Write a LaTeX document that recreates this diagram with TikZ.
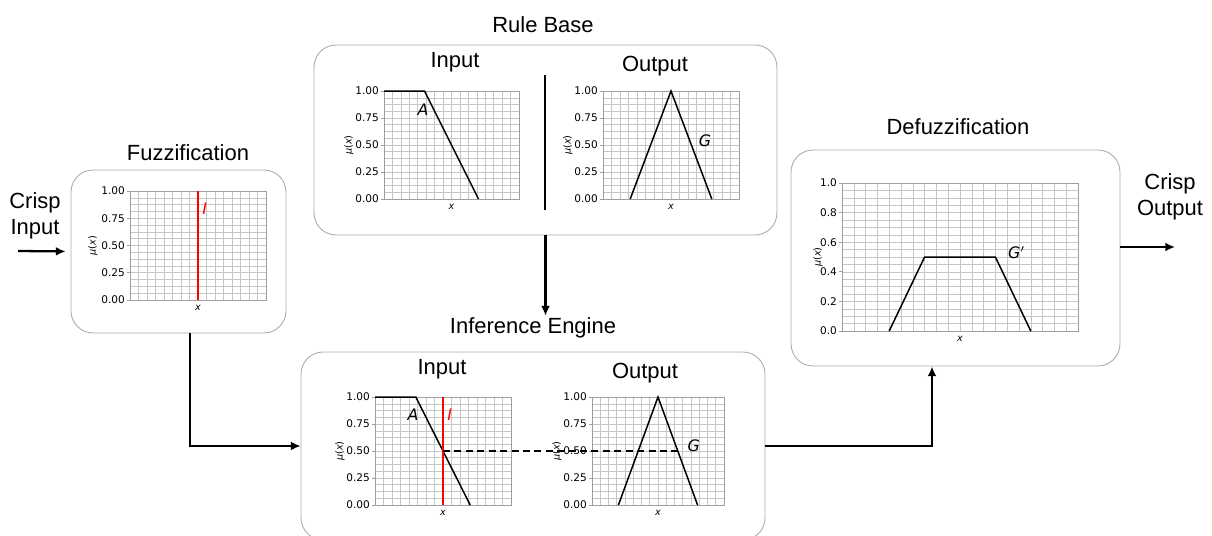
\documentclass[tikz,border=0pt]{standalone}
\usepackage{fontspec}
\setmainfont{Liberation Sans}
\newfontfamily\plotfont{DejaVu Sans}
\usetikzlibrary{arrows.meta}

\tikzset{
  panel/.style={draw=gray!65, line width=0.5pt, rounded corners=0.44cm, fill=white, inner sep=0pt},
  title/.style={font=\fontsize{12.5}{14.5}\selectfont, align=center, inner sep=1pt},
  flow/.style={line width=1.3pt, -{Latex[length=5.5pt,width=5pt]}},
  gridline/.style={gray!45, line width=0.3pt},
  frame/.style={gray!75, line width=0.4pt},
  ticklbl/.style={font=\plotfont\fontsize{6}{6}\selectfont, anchor=east, inner sep=1pt, text=black},
  axlbl/.style={font=\plotfont\fontsize{5.5}{6}\selectfont, inner sep=0pt},
  mfline/.style={line width=0.85pt},
  crispline/.style={red, line width=0.85pt},
  setlbl/.style={font=\plotfont\itshape\fontsize{9}{10}\selectfont, inner sep=0pt},
}

% grid, frame, ticks and axis labels of one membership plot
\newcommand{\mfaxes}[3]{%
  \pgfmathtruncatemacro\nlast{#1-1}
  \foreach \k in {1,...,\nlast}{
    \draw[gridline] (\k/#1,0) -- (\k/#1,1);
    \draw[gridline] (0,\k/#1) -- (1,\k/#1);
  }
  \draw[frame] (0,0) rectangle (1,1);
  \foreach \v/\t in {#2}{\draw[frame] (0,\v) -- ++(-0.06cm,0) node[ticklbl] {\t};}
  \node[axlbl, rotate=90] at ([xshift=-#3]0,0.5) {\textit{μ}(\textit{x})};
  \node[axlbl] at ([yshift=-0.15cm]0.5,0) {\textit{x}};
}

\begin{document}
\begin{tikzpicture}[x=0.02cm, y=-0.02cm]
\useasboundingbox (0,0) rectangle (1212,536);

\node[panel, minimum width=4.3cm, minimum height=3.26cm] (fuzz) at (178.5,251.5) {};
\node[panel, minimum width=9.26cm, minimum height=3.8cm] (rule) at (545.5,140) {};
\node[panel, minimum width=9.28cm, minimum height=3.76cm] (infer) at (533,446) {};
\node[panel, minimum width=6.58cm, minimum height=4.32cm] (defuzz) at (955.5,258) {};

\node[title] (crispin) at (35,216) {Crisp\\Input};
\node[title] (tfuzz) at (188,153) {Fuzzification};
\node[title] (trule) at (543,25) {Rule Base};
\node[title] (tin1) at (455,62) {Input};
\node[title] (tout1) at (655,66) {Output};
\node[title] (tinfer) at (533,328) {Inference Engine};
\node[title] (tin2) at (442,369) {Input};
\node[title] (tout2) at (645,373) {Output};
\node[title] (tdefuzz) at (958,127) {Defuzzification};
\node[title] (crispout) at (1170,197) {Crisp\\Output};

\draw[line width=1.3pt] (545,75) -- (545,210);

\begin{scope}[shift={(130,300)}, x=2.72cm, y=2.18cm]
  \mfaxes{16}{0/0.00,0.25/0.25,0.5/0.50,0.75/0.75,1/1.00}{0.74cm}
  \draw[crispline] (0.5,0) -- (0.5,1);
  \node[setlbl, red] at (0.55,0.84) {I};
\end{scope}

\begin{scope}[shift={(384,199)}, x=2.7cm, y=2.16cm]
  \mfaxes{16}{0/0.00,0.25/0.25,0.5/0.50,0.75/0.75,1/1.00}{0.7cm}
  \draw[mfline] (0,1) -- (0.3,1) -- (0.7,0);
  \node[setlbl] at (0.29,0.83) {A};
\end{scope}

\begin{scope}[shift={(603,199)}, x=2.72cm, y=2.16cm]
  \mfaxes{16}{0/0.00,0.25/0.25,0.5/0.50,0.75/0.75,1/1.00}{0.7cm}
  \draw[mfline] (0.2,0) -- (0.5,1) -- (0.8,0);
  \node[setlbl] at (0.75,0.54) {G};
\end{scope}

\begin{scope}[shift={(375,505)}, x=2.72cm, y=2.16cm]
  \mfaxes{16}{0/0.00,0.25/0.25,0.5/0.50,0.75/0.75,1/1.00}{0.7cm}
  \draw[mfline] (0,1) -- (0.3,1) -- (0.7,0);
  \draw[crispline] (0.5,0) -- (0.5,1);
  \node[setlbl] at (0.28,0.84) {A};
  \node[setlbl, red] at (0.55,0.84) {I};
  \coordinate (cut) at (0.5,0.5);
\end{scope}

\begin{scope}[shift={(592,505)}, x=2.64cm, y=2.16cm]
  \mfaxes{16}{0/0.00,0.25/0.25,0.5/0.50,0.75/0.75,1/1.00}{0.7cm}
  \draw[mfline] (0.2,0) -- (0.5,1) -- (0.8,0);
  \node[setlbl] at (0.77,0.55) {G};
  \coordinate (gcut) at (0.67,0.5);
\end{scope}

\begin{scope}[shift={(842,331)}, x=4.72cm, y=2.96cm]
  \mfaxes{20}{0/0.0,0.2/0.2,0.4/0.4,0.6/0.6,0.8/0.8,1/1.0}{0.48cm}
  \draw[mfline] (0.2,0) -- (0.35,0.5) -- (0.65,0.5) -- (0.8,0);
  \node[setlbl] at (0.74,0.53) {G$'$};
\end{scope}

\draw[line width=1.2pt, dash pattern=on 4pt off 2.5pt] (cut) -- (gcut);

\coordinate (instart) at (18,251);
\coordinate (outend) at (1175,247);
\draw[flow, shorten >=0.1cm] (instart) -- (fuzz.west);
\draw[flow] ([xshift=0.23cm]fuzz.south) |- (infer.west);
\draw[flow] (rule.south) -- (rule.south |- tinfer.north);
\draw[flow] (infer.east) -| ([xshift=-0.47cm]defuzz.south);
\draw[flow] (outend -| defuzz.east) -- (outend);
\end{tikzpicture}
\end{document}
